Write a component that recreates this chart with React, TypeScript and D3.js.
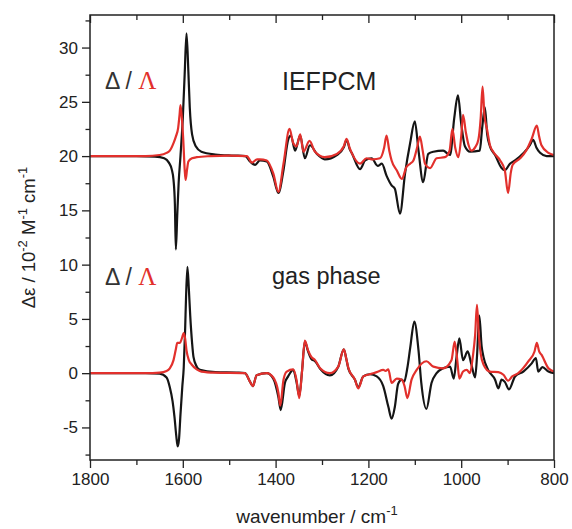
import React, { useEffect, useRef } from "react";
import * as d3 from "d3";

// wavenumber (cm-1), delta-epsilon (10^-2 M-1 cm-1); IEFPCM spectra are shifted up by OFFSET
const OFFSET = 20;

const iefpcmDelta: [number, number][] = [
  [1800, 0], [1700, 0], [1660, -0.05], [1640, -0.2], [1630, -0.6], [1624, -1.2], [1620, -2.2],
  [1617, -4.5], [1615, -8.6], [1612, -5.5], [1609, -2.5], [1605, 0], [1600, 3.5], [1596, 7.5],
  [1592, 11.3], [1588, 7.8], [1585, 4.5], [1580, 2.0], [1572, 0.9], [1560, 0.4], [1530, 0.15],
  [1490, 0.05], [1465, 0], [1455, -0.5], [1444, -0.8], [1434, -0.4], [1419, -0.5], [1405, -1.9],
  [1394, -3.4], [1383, -1.3], [1373, 1.5], [1367, 1.9], [1358, 0.5], [1347, 1.9], [1337, -0.2],
  [1326, 1.0], [1311, 0.2], [1294, -0.3], [1268, 0.1], [1253, 0.8], [1247, 1.5], [1240, 0.6],
  [1236, 0.3], [1218, -1.2], [1207, -0.4], [1193, -0.2], [1180, -0.9], [1171, -0.7], [1161, -1.8],
  [1150, -2.7], [1143, -3.0], [1132, -5.3], [1121, -1.6], [1110, 1.2], [1100, 3.2], [1092, 0.5],
  [1082, -2.4], [1071, 0.2], [1060, 0.4], [1039, 0.5], [1024, 0.1], [1015, 3.5], [1007, 5.6],
  [1000, 3.0], [992, 0.9], [981, 0.4], [960, 0.5], [955, 2.5], [949, 4.5], [944, 2.0], [938, 0.9],
  [927, 0.1], [913, -1.1], [906, -1.3], [895, -0.7], [884, -0.4], [865, 0.3], [852, 1.0], [845, 1.5],
  [838, 0.8], [830, 0.3], [816, 0], [800, 0],
];

const iefpcmLambda: [number, number][] = [
  [1800, 0], [1680, 0], [1650, 0.1], [1635, 0.3], [1628, 0.5], [1620, 1.2], [1615, 1.8], [1610, 2.6],
  [1607, 3.8], [1605, 4.7], [1602, 3.5], [1599, 1.5], [1596, -1.2], [1594, -2.2], [1591, -1.3],
  [1588, -0.5], [1580, -0.2], [1570, -0.1], [1540, 0], [1500, 0.05], [1462, 0], [1451, -0.6],
  [1440, -0.3], [1434, -0.3], [1419, -0.4], [1405, -1.6], [1394, -3.3], [1383, -0.7], [1370, 2.5],
  [1362, 1.2], [1355, 0.9], [1347, 2.0], [1340, 0.4], [1327, 1.4], [1315, 0.4], [1294, -0.1],
  [1268, 0.2], [1253, 0.9], [1247, 1.6], [1240, 0.7], [1236, 0.3], [1218, -0.7], [1204, -0.2],
  [1190, -0.3], [1175, -0.2], [1166, 0.8], [1161, 1.9], [1155, 0.5], [1150, -0.4], [1139, -1.3],
  [1128, -2.1], [1118, -1.0], [1110, -0.7], [1103, -0.4], [1095, 0.8], [1089, 1.8], [1083, 0.5],
  [1078, -0.7], [1067, -1.1], [1053, -0.2], [1035, -0.1], [1025, 0.5], [1019, 2.5], [1013, 0.8],
  [1006, -0.1], [1000, 1.8], [996, 3.8], [990, 2.2], [984, 1.0], [978, 0.5], [970, 0.8], [963, 1.5],
  [958, 3.5], [954, 6.4], [950, 3.8], [944, 2.4], [938, 1.0], [931, 0.4], [916, -0.4], [906, -1.3],
  [899, -3.4], [893, -1.5], [889, -0.8], [873, -0.2], [860, 0.5], [848, 1.6], [837, 2.8], [832, 1.8],
  [827, 1.0], [812, 0.3], [800, 0.1],
];

const gasDelta: [number, number][] = [
  [1800, 0], [1680, 0], [1650, -0.05], [1635, -0.4], [1628, -1.3], [1622, -2.6], [1618, -4.0],
  [1614, -5.8], [1611, -6.75], [1608, -6.0], [1605, -3.8], [1601, -1.2], [1598, 0.5], [1595, 4.0],
  [1593, 7.0], [1590, 9.8], [1587, 7.8], [1584, 5.3], [1580, 2.8], [1577, 1.5], [1570, 0.6],
  [1563, 0.3], [1530, 0.1], [1480, 0.05], [1466, 0], [1455, -0.8], [1449, -1.2], [1441, -0.2],
  [1419, 0], [1405, -0.5], [1394, -2.2], [1389, -3.4], [1380, -0.9], [1373, -0.3], [1362, 0.3],
  [1355, -0.8], [1349, -2.1], [1343, 0.2], [1337, 2.9], [1330, 2.0], [1323, 1.3], [1315, 1.1],
  [1304, 0.4], [1283, -0.2], [1265, 0.6], [1253, 2.2], [1248, 1.4], [1243, 0.4], [1229, -0.6],
  [1222, -1.3], [1211, -0.3], [1197, -0.1], [1182, -0.3], [1168, -1.2], [1157, -3.1], [1150, -4.2],
  [1143, -3.1], [1136, -1.0], [1128, -0.6], [1123, -0.8], [1116, 0.5], [1110, 2.3], [1101, 4.75],
  [1092, 2.1], [1086, -0.9], [1075, -3.3], [1064, -0.9], [1053, 0], [1039, 0.45], [1024, 0.6],
  [1016, -0.5], [1010, 1.5], [1004, 3.2], [996, 1.2], [986, 2.0], [978, 0.8], [970, -0.4],
  [966, 1.5], [961, 5.3], [956, 2.5], [952, 1.5], [942, 0.3], [927, -0.6], [920, -1.4], [913, -0.6],
  [906, -0.8], [897, -1.5], [884, -0.3], [866, 0.15], [848, 0.9], [839, 1.4], [834, 0.15],
  [825, 0.55], [812, 0.15], [800, 0],
];

const gasLambda: [number, number][] = [
  [1800, 0], [1680, 0], [1650, 0.05], [1635, 0.2], [1628, 0.45], [1620, 1.2], [1615, 2.2],
  [1612, 2.8], [1606, 2.8], [1602, 3.2], [1598, 3.7], [1595, 3.2], [1592, 2.1], [1587, 1.2],
  [1581, 0.8], [1570, 0.35], [1560, 0.15], [1530, 0.05], [1466, 0], [1455, -0.8], [1449, -1.2],
  [1441, -0.2], [1419, 0], [1405, -0.4], [1394, -1.8], [1390, -3.0], [1383, -0.6], [1376, 0.15],
  [1362, 0.35], [1355, -0.6], [1349, -2.3], [1343, 0.2], [1337, 3.0], [1330, 2.1], [1323, 1.5],
  [1315, 1.2], [1304, 0.45], [1283, 0], [1265, 0.6], [1253, 2.2], [1248, 1.4], [1243, 0.45],
  [1229, -0.6], [1222, -1.4], [1211, -0.3], [1197, -0.1], [1182, 0.1], [1168, 0.3], [1163, 0.2],
  [1157, 0.35], [1150, -0.9], [1139, -0.5], [1128, -0.6], [1122, -1.2], [1116, -2.3], [1107, -0.6],
  [1096, 0.3], [1075, 1.1], [1060, 0.6], [1039, 0.45], [1021, 1.2], [1014, 2.9], [1008, 1.0],
  [1004, -0.5], [996, 0.15], [988, 0.3], [981, 0], [975, 1.5], [970, 3.5], [966, 6.3], [962, 3.5],
  [958, 1.8], [952, 0.8], [938, 0.15], [920, 0.1], [909, -0.15], [899, -0.7], [890, -0.3], [877, 0],
  [855, 1.1], [842, 2.0], [837, 2.8], [832, 2.0], [827, 1.7], [812, 0.45], [800, 0.15],
];

const xMajor = [1800, 1600, 1400, 1200, 1000, 800];
const xMinor = [1700, 1500, 1300, 1100, 900];
const yMajor = [-5, 0, 5, 10, 15, 20, 25, 30];
const yMinor = [-7.5, -2.5, 2.5, 7.5, 12.5, 17.5, 22.5, 27.5, 32.5];

const BLACK = "#151515";
const RED = "#e2302c";
const INK = "#222";
const FONT = "'Liberation Sans', Arial, sans-serif";

const App = () => {
  const svgRef = useRef<SVGSVGElement>(null);

  useEffect(() => {
    const W = 572;
    const H = 529;
    const margin = { top: 15, right: 18, bottom: 69, left: 90 };
    const width = W - margin.left - margin.right;
    const height = H - margin.top - margin.bottom;

    d3.select(svgRef.current).selectAll("*").remove();

    const svg = d3
      .select(svgRef.current)
      .attr("width", W)
      .attr("height", H)
      .append("g")
      .attr("transform", `translate(${margin.left},${margin.top})`);

    const x = d3.scaleLinear().domain([1800, 800]).range([0, width]);
    const y = d3.scaleLinear().domain([-8, 33]).range([height, 0]);

    const styleAxis = (g: any) => {
      g.select(".domain").remove();
      g.selectAll("line").attr("stroke", INK).attr("stroke-width", 1.3);
      g.selectAll("text")
        .attr("fill", INK)
        .style("font-family", FONT)
        .style("font-size", "17px");
    };
    const plain = (d: any) => String(d);

    // bottom axis
    svg.append("g")
      .attr("transform", `translate(0,${height})`)
      .call(d3.axisBottom(x).tickValues(xMajor).tickSize(8).tickPadding(5).tickFormat(plain))
      .call(styleAxis);
    svg.append("g")
      .attr("transform", `translate(0,${height})`)
      .call(d3.axisBottom(x).tickValues(xMinor).tickSize(5).tickFormat(() => ""))
      .call(styleAxis);

    // top axis, ticks inward
    svg.append("g")
      .call(d3.axisTop(x).tickValues(xMajor).tickSize(-8).tickFormat(() => ""))
      .call(styleAxis);
    svg.append("g")
      .call(d3.axisTop(x).tickValues(xMinor).tickSize(-5).tickFormat(() => ""))
      .call(styleAxis);

    // left axis
    svg.append("g")
      .call(d3.axisLeft(y).tickValues(yMajor).tickSize(8).tickPadding(4).tickFormat(plain))
      .call(styleAxis);
    svg.append("g")
      .call(d3.axisLeft(y).tickValues(yMinor).tickSize(4.5).tickFormat(() => ""))
      .call(styleAxis);

    // spectra
    const clip = svg.append("clipPath").attr("id", "plot-clip");
    clip.append("rect").attr("width", width).attr("height", height);

    const line = (offset: number) =>
      d3.line<[number, number]>()
        .x((d) => x(d[0]))
        .y((d) => y(d[1] + offset))
        .curve(d3.curveMonotoneX);

    const series = [
      { data: iefpcmDelta, offset: OFFSET, color: BLACK },
      { data: gasDelta, offset: 0, color: BLACK },
      { data: iefpcmLambda, offset: OFFSET, color: RED },
      { data: gasLambda, offset: 0, color: RED },
    ];

    svg.append("g")
      .attr("clip-path", "url(#plot-clip)")
      .selectAll("path")
      .data(series)
      .enter()
      .append("path")
      .attr("d", (s) => line(s.offset)(s.data))
      .attr("fill", "none")
      .attr("stroke", (s) => s.color)
      .attr("stroke-width", 2.2)
      .attr("stroke-linejoin", "round");

    // frame
    svg.append("rect")
      .attr("width", width)
      .attr("height", height)
      .attr("fill", "none")
      .attr("stroke", INK)
      .attr("stroke-width", 1.5);

    // annotations
    const legend = (yy: number) => {
      const t = svg.append("text")
        .attr("x", 15)
        .attr("y", yy)
        .style("font-size", "23px");
      t.append("tspan").attr("fill", "#333").style("font-family", FONT).text("\u0394 / ");
      t.append("tspan").attr("fill", RED).style("font-family", "'Liberation Serif', serif")
        .style("font-size", "25px").text("\u039B");
    };
    legend(74);
    legend(270);

    svg.append("text")
      .attr("x", 192)
      .attr("y", 75)
      .attr("fill", "#222")
      .style("font-family", FONT)
      .style("font-size", "25px")
      .text("IEFPCM");

    svg.append("text")
      .attr("x", 182)
      .attr("y", 269)
      .attr("fill", "#222")
      .style("font-family", FONT)
      .style("font-size", "23.5px")
      .text("gas phase");

    // axis titles
    const xt = svg.append("text")
      .attr("text-anchor", "middle")
      .attr("x", width / 2 - 5)
      .attr("y", height + 63)
      .attr("fill", INK)
      .style("font-family", FONT)
      .style("font-size", "19px");
    xt.append("tspan").text("wavenumber / cm");
    xt.append("tspan").attr("dy", -8).style("font-size", "13px").text("-1");

    const yt = svg.append("text")
      .attr("text-anchor", "middle")
      .attr("transform", `translate(${-55},${height / 2}) rotate(-90)`)
      .attr("fill", INK)
      .style("font-family", FONT)
      .style("font-size", "18.5px");
    const sup = (s: string) =>
      yt.append("tspan").attr("dy", -8).style("font-size", "13px").text(s);
    const base = (s: string) => yt.append("tspan").attr("dy", 8).text(s);
    yt.append("tspan").text("\u0394\u03B5 / 10");
    sup("-2");
    base(" M");
    sup("-1");
    base(" cm");
    sup("-1");
  }, []);

  return (
    <svg
      ref={svgRef}
      style={{ position: "absolute", left: 0, top: 0, background: "#fff" }}
    ></svg>
  );
};

export default App;
